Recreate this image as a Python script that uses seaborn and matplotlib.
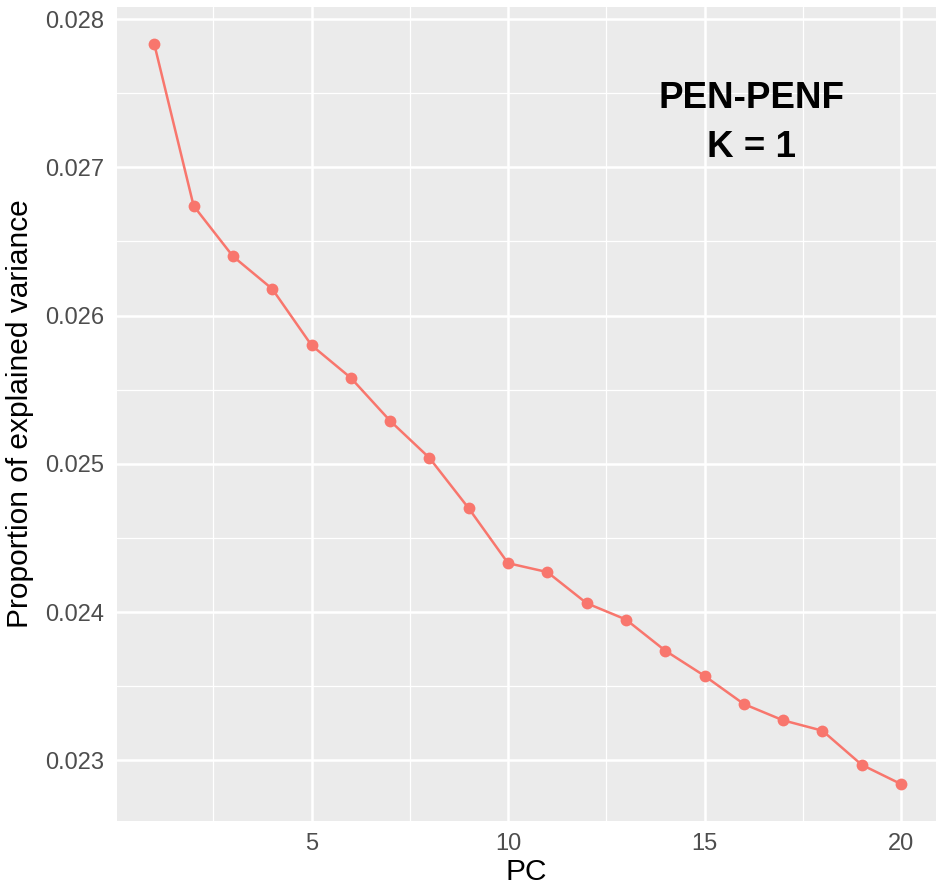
"""Scree plot of explained variance per PC (PEN-PENF, K = 1)."""

import matplotlib

matplotlib.use("Agg")
import matplotlib.pyplot as plt
import pandas as pd
import seaborn as sns
from matplotlib.ticker import FixedLocator

# Data
pc = list(range(1, 21))
explained_variance = [
    0.02783, 0.02674, 0.02640, 0.02618, 0.02580,
    0.02558, 0.02529, 0.02504, 0.02470, 0.02433,
    0.02427, 0.02406, 0.02395, 0.02374, 0.02357,
    0.02338, 0.02327, 0.02320, 0.02297, 0.02284,
]
x_ticks = [5, 10, 15, 20]
y_ticks = [0.023, 0.024, 0.025, 0.026, 0.027, 0.028]
y_tick_labels = ["0.023", "0.024", "0.025", "0.026", "0.027", "0.028"]

LINE_COLOR = "#F8766D"
PANEL_BG = "#EBEBEB"
TEXT_GREY = "#4D4D4D"

sns.set_theme(style="darkgrid")
plt.rcParams["font.family"] = ["Liberation Sans", "DejaVu Sans"]

df = pd.DataFrame({"PC": pc, "variance": explained_variance})

fig = plt.figure(figsize=(9.36, 8.88), dpi=100)
ax = fig.add_axes([0.125, 0.0758, 0.875, 0.9162])
ax.set_facecolor(PANEL_BG)

sns.lineplot(
    data=df,
    x="PC",
    y="variance",
    color=LINE_COLOR,
    linewidth=1.8,
    marker="o",
    markersize=8.5,
    markeredgewidth=0,
    ax=ax,
    zorder=3,
)

ax.set_xlim(0.05, 20.89)
ax.set_ylim(0.022593, 0.028081)

ax.set_xticks(x_ticks)
ax.set_yticks(y_ticks)
ax.set_yticklabels(y_tick_labels)
ax.xaxis.set_minor_locator(FixedLocator([2.5, 7.5, 12.5, 17.5]))
ax.yaxis.set_minor_locator(FixedLocator([0.0225, 0.0235, 0.0245, 0.0255, 0.0265, 0.0275]))

ax.grid(which="major", color="white", linewidth=1.8)
ax.grid(which="minor", color="white", linewidth=0.9)
ax.set_axisbelow(True)
for spine in ax.spines.values():
    spine.set_visible(False)

ax.tick_params(
    axis="both", which="major", length=5.5, width=1.5, color="#333333",
    labelsize=17, labelcolor=TEXT_GREY, pad=3.5,
)
ax.tick_params(axis="both", which="minor", length=0)

ax.set_xlabel("PC", fontsize=21.5, color="black", labelpad=2)
ax.set_ylabel("Proportion of explained variance", fontsize=21.5, color="black", labelpad=8)

ax.text(
    16.2, 0.027300, "PEN-PENF\nK = 1",
    ha="center", va="center", fontsize=26.5, fontweight="bold",
    color="black", linespacing=1.5,
)

fig.savefig("out.png", dpi=100)
plt.close(fig)
